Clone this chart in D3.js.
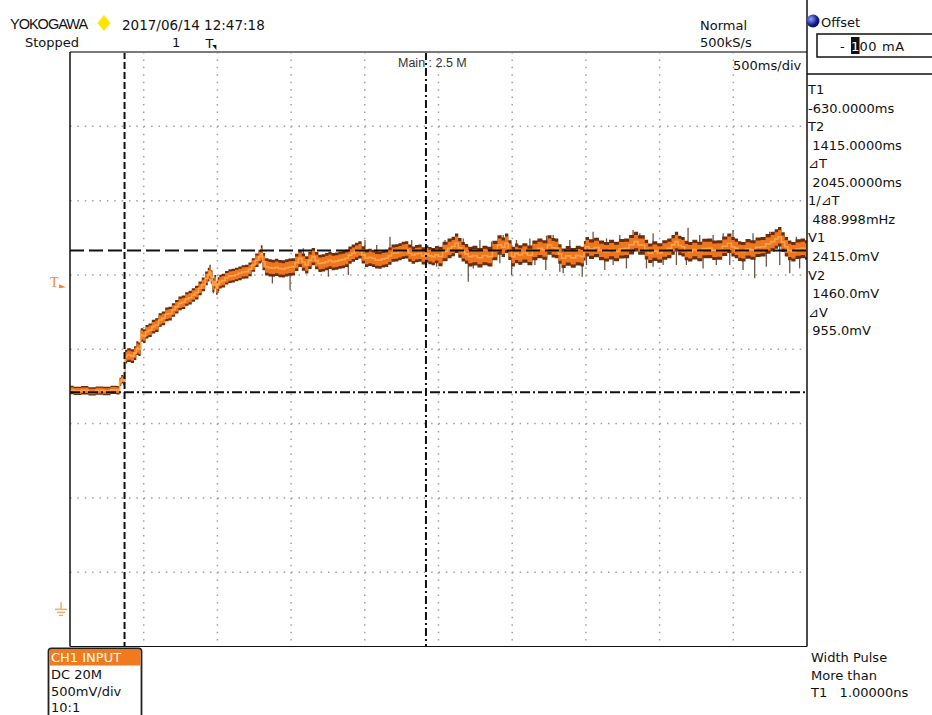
<!DOCTYPE html>
<html>
<head>
<meta charset="utf-8">
<script src="https://cdn.jsdelivr.net/npm/d3@7/dist/d3.min.js"></script>
<style>
  html, body { margin: 0; padding: 0; background: #fff; }
  svg { display: block; }
  text { font-family: "DejaVu Sans", Verdana, sans-serif; font-size: 13px; fill: #111; }
</style>
</head>
<body>
<svg id="scope" width="932" height="715"></svg>
<script>
// ---- Acquisition data: CH1 voltage (mV) against time (ms), trigger at 0 ms ----
const traceTime = [
  -1000, -950, -900, -850, -800, -750, -700, -668, -660, -645, -632, -628,
  -624, -600, -575, -556, -544, -528, -513, -496, -479, -456, -434, -410,
  -388, -366, -343, -320, -298, -276, -253, -230, -207, -185, -163, -140,
  -117, -95, -72, -58, -50, -40, -27, -14, -4, 8, 18, 40,
  64, 86, 108, 130, 154, 176, 199, 222, 244, 268, 290, 300,
  312, 335, 358, 380, 402, 425, 448, 470, 493, 515, 538, 561,
  584, 606, 628, 651, 674, 696, 720, 742, 764, 786, 810, 832,
  855, 877, 900, 922, 945, 967, 990, 1013, 1036, 1058, 1080, 1103,
  1126, 1148, 1170, 1193, 1216, 1239, 1262, 1284, 1306, 1329, 1352, 1374,
  1397, 1420, 1442, 1464, 1488, 1510, 1545, 1578, 1600, 1623, 1645, 1668,
  1690, 1713, 1747, 1781, 1815, 1849, 1883, 1917, 1940, 1962, 1985, 2007,
  2030, 2052, 2086, 2120, 2154, 2188, 2222, 2256, 2278, 2301, 2324, 2346,
  2380, 2414, 2448, 2481, 2492, 2504, 2538, 2572, 2606, 2640, 2674, 2708,
  2742, 2776, 2810, 2843, 2866, 2888, 2911, 2934, 2968, 3001, 3035, 3069,
  3092, 3115, 3137, 3159, 3182, 3205, 3239, 3273, 3306, 3340, 3374, 3408,
  3442, 3476, 3498, 3521, 3544, 3566, 3600, 3634, 3668, 3702, 3736, 3770,
  3792, 3815, 3838, 3860, 3883, 3905, 3940, 3973, 4000
];
const traceVolt = [
  1476, 1470, 1474, 1466, 1472, 1469, 1477, 1474, 1530, 1548, 1538, 1545,
  1700, 1711, 1704, 1724, 1758, 1750, 1846, 1838, 1868, 1878, 1902, 1912,
  1947, 1958, 1985, 1990, 2014, 2036, 2059, 2066, 2088, 2097, 2115, 2131,
  2160, 2186, 2227, 2252, 2272, 2236, 2182, 2204, 2162, 2188, 2205, 2212,
  2231, 2242, 2245, 2253, 2261, 2270, 2272, 2288, 2317, 2349, 2373, 2392,
  2339, 2305, 2298, 2295, 2301, 2293, 2290, 2297, 2302, 2305, 2334, 2362,
  2337, 2317, 2348, 2373, 2346, 2328, 2331, 2339, 2348, 2339, 2343, 2350,
  2353, 2362, 2383, 2396, 2408, 2418, 2385, 2362, 2368, 2362, 2351, 2350,
  2358, 2362, 2377, 2396, 2398, 2406, 2415, 2418, 2396, 2384, 2393, 2396,
  2378, 2392, 2380, 2373, 2386, 2374, 2408, 2429, 2441, 2463, 2432, 2406,
  2392, 2373, 2380, 2366, 2381, 2373, 2414, 2451, 2436, 2463, 2417, 2373,
  2395, 2384, 2398, 2382, 2415, 2429, 2418, 2451, 2433, 2429, 2391, 2362,
  2378, 2365, 2380, 2373, 2413, 2440, 2424, 2435, 2415, 2406, 2420, 2408,
  2426, 2429, 2453, 2474, 2451, 2451, 2420, 2396, 2410, 2398, 2418, 2429,
  2452, 2474, 2448, 2440, 2414, 2406, 2420, 2408, 2428, 2429, 2416, 2418,
  2443, 2463, 2440, 2429, 2410, 2406, 2425, 2418, 2436, 2440, 2459, 2474,
  2492, 2507, 2471, 2440, 2415, 2406, 2424, 2429, 2418
];
// Half-width of the dense noise envelope (mV), by time band
const bandStart = [-1000, -626, -60, 300, 1500];
const bandHalfWidth = [28, 46, 46, 58, 66];

// Isolated noise spikes: time (ms) and extreme voltage (mV)
const spikeTime = [
  -27, 5, 301, 373, 493, 583, 651, 753, 888, 1001, 1081, 1171, 1318,
  1419, 1487, 1702, 1736, 1826, 1916, 1996, 2052, 2154, 2228, 2323, 2346,
  2475, 2504, 2628, 2685, 2775, 2911, 2956, 3024, 3114, 3182, 3295, 3385,
  3476, 3566, 3645, 3724, 3815, 3883, 3950,
  1544, 1623, 1668, 1781, 1860, 1939, 2029, 2120, 2233, 2278, 2391, 2549,
  2640, 2730, 2820, 2866, 2956, 3092, 3193, 3272, 3363, 3431, 3498, 3634,
  3747, 3815, 3928
];
const spikeVolt = [
  2126, 2128, 2418, 2193, 2149, 2429, 2429, 2238, 2250, 2485, 2451, 2507, 2485,
  2317, 2305, 2204, 2294, 2317, 2328, 2249, 2317, 2317, 2283, 2272, 2261,
  2238, 2317, 2283, 2317, 2294, 2294, 2305, 2317, 2317, 2317, 2294, 2317,
  2317, 2283, 2227, 2305, 2317, 2261, 2294,
  2485, 2514, 2496, 2485, 2474, 2518, 2485, 2496, 2514, 2518, 2485, 2541,
  2496, 2518, 2552, 2530, 2530, 2507, 2568, 2518, 2518, 2530, 2552, 2530,
  2541, 2568, 2507
];

// Screen divisions (10 x 500 ms, 8 x 500 mV)
const timeDomain = [-1000, 4000];
const voltDomain = [-250, 3750];
const timeGrid = [-500, 0, 500, 1000, 1500, 2000, 2500, 3000, 3500];
const voltGrid = [250, 750, 1250, 1750, 2250, 2750, 3250];

// Cursor settings
const cursorT1 = -630, cursorT2 = 1415;
const cursorV1 = 2415, cursorV2 = 1460;
const triggerLevel = 2200;

// Readout texts
const headerTexts = ["2017/06/14 12:47:18", "Stopped", "1"];
const acqTexts = ["Normal", "500kS/s", "500ms/div"];
const cursorLabels = ["T1", "-630.0000ms", "T2", " 1415.0000ms", "\u22BFT", " 2045.0000ms",
  "1/\u22BFT", " 488.998mHz", "V1", " 2415.0mV", "V2", " 1460.0mV", "\u22BFV", " 955.0mV"];
const chTexts = ["CH1 INPUT", "DC 20M", "500mV/div", "10:1"];
const trigTexts = ["Width Pulse", "More than", "T1   1.00000ns"];

// ---- Drawing ----
const svg = d3.select("#scope");
const plot = { left: 70, right: 807, top: 52, bottom: 646.5 };

const x = d3.scaleLinear().domain(timeDomain).range([plot.left, plot.right]);
const y = d3.scaleLinear().domain(voltDomain).range([plot.bottom, plot.top]);

// Graticule
const grid = svg.append("g").attr("class", "grid");
grid.selectAll("line.vg").data(timeGrid).join("line")
  .attr("x1", d => x(d)).attr("x2", d => x(d))
  .attr("y1", plot.top).attr("y2", plot.bottom)
  .attr("stroke", "#a0a0a0").attr("stroke-width", 1.5)
  .attr("stroke-dasharray", "1.5," + ((plot.bottom - plot.top) / 80 - 1.5));
grid.selectAll("line.hg").data(voltGrid).join("line")
  .attr("x1", plot.left).attr("x2", plot.right)
  .attr("y1", d => y(d)).attr("y2", d => y(d))
  .attr("stroke", "#a0a0a0").attr("stroke-width", 1.5)
  .attr("stroke-dasharray", "1.5," + ((plot.right - plot.left) / 100 - 1.5));

// Trace
const halfWidthAt = t => {
  let w = bandHalfWidth[0];
  bandStart.forEach((s, i) => { if (t >= s) w = bandHalfWidth[i]; });
  return w;
};
const pts = traceTime.map((t, i) => ({ t, v: traceVolt[i], w: halfWidthAt(t) }));
const midAt = d3.scaleLinear().domain(traceTime).range(traceVolt);

const traceG = svg.append("g").attr("class", "trace");
traceG.selectAll("line.spike").data(spikeTime).join("line")
  .attr("x1", d => x(d)).attr("x2", d => x(d))
  .attr("y1", d => y(midAt(d)))
  .attr("y2", (d, i) => y(spikeVolt[i]))
  .attr("stroke", "#6d5646").attr("stroke-width", 1.3);

const outer = d3.area().curve(d3.curveStep)
  .x(d => x(d.t)).y0(d => y(d.v - d.w)).y1(d => y(d.v + d.w));
const inner = d3.area().curve(d3.curveStep)
  .x(d => x(d.t)).y0(d => y(d.v - d.w * 0.68)).y1(d => y(d.v + d.w * 0.68));
traceG.append("path").datum(pts).attr("d", outer).attr("fill", "#6a2e0e");
traceG.append("path").datum(pts).attr("d", inner).attr("fill", "#ee761e");
traceG.append("path").datum(pts)
  .attr("d", d3.line().curve(d3.curveStep).x(d => x(d.t)).y(d => y(d.v)))
  .attr("fill", "none").attr("stroke", "#ffa24a").attr("stroke-width", 1.6);

// Cursors
const cur = svg.append("g").attr("class", "cursors").attr("stroke", "#111").attr("stroke-width", 2);
cur.append("line").attr("x1", x(cursorT1)).attr("x2", x(cursorT1))
  .attr("y1", plot.top).attr("y2", plot.bottom).attr("stroke-dasharray", "7,3");
cur.append("line").attr("x1", x(cursorT2)).attr("x2", x(cursorT2))
  .attr("y1", plot.top).attr("y2", plot.bottom).attr("stroke-dasharray", "8,3,2,3");
cur.append("line").attr("x1", plot.left).attr("x2", plot.right)
  .attr("y1", y(cursorV1)).attr("y2", y(cursorV1)).attr("stroke-dasharray", "14,5");
cur.append("line").attr("x1", plot.left).attr("x2", plot.right)
  .attr("y1", y(cursorV2)).attr("y2", y(cursorV2)).attr("stroke-dasharray", "10,3,2,3");

// Frame
const frame = svg.append("g").attr("class", "frame");
frame.append("line").attr("x1", plot.left).attr("x2", plot.right)
  .attr("y1", plot.top).attr("y2", plot.top).attr("stroke", "#7a7a7a").attr("stroke-width", 2);
frame.append("line").attr("x1", plot.left).attr("x2", plot.left)
  .attr("y1", plot.top).attr("y2", plot.bottom).attr("stroke", "#111").attr("stroke-width", 1.5);
frame.append("line").attr("x1", plot.left).attr("x2", plot.right)
  .attr("y1", plot.bottom).attr("y2", plot.bottom).attr("stroke", "#111").attr("stroke-width", 1.2);
frame.append("line").attr("x1", plot.right).attr("x2", plot.right)
  .attr("y1", 0).attr("y2", plot.bottom).attr("stroke", "#111").attr("stroke-width", 1.5);
frame.append("line").attr("x1", plot.right).attr("x2", 932)
  .attr("y1", 74).attr("y2", 74).attr("stroke", "#111").attr("stroke-width", 1.5);

// Header
svg.append("text").attr("x", 10).attr("y", 29)
  .style("font-family", "'Liberation Sans', Arial, sans-serif").style("font-size", "14.5px")
  .style("letter-spacing", "-1px").text("YOKOGAWA");
svg.append("path")
  .attr("d", "M104,15 L110.5,23 L104,31 L97.5,23 Z").attr("fill", "#ffe400");
svg.append("text").attr("x", 122).attr("y", 30).style("font-size", "13.5px").text(headerTexts[0]);
svg.append("text").attr("x", 25).attr("y", 47).text(headerTexts[1]);
svg.append("text").attr("x", 172).attr("y", 47).text(headerTexts[2]);
// trigger position mark
svg.append("text").attr("x", x(0) - 12).attr("y", 48).text("T");
svg.append("path").attr("d", `M${x(0) - 5},45 L${x(0) - 1},45 L${x(0) - 1},50 Z`).attr("fill", "#111");

svg.append("text").attr("x", 700).attr("y", 30).text(acqTexts[0]);
svg.append("text").attr("x", 700).attr("y", 47).text(acqTexts[1]);
svg.append("text").attr("x", 733).attr("y", 70).text(acqTexts[2]);
svg.append("text").attr("x", 398).attr("y", 67)
  .style("font-family", "'Liberation Sans', Arial, sans-serif").style("font-size", "12.5px")
  .style("fill", "#333").text("Main : 2.5 M");

// Offset control
const defs = svg.append("defs");
const rg = defs.append("radialGradient").attr("id", "knob").attr("cx", "35%").attr("cy", "35%");
rg.append("stop").attr("offset", "0%").attr("stop-color", "#8fa2ff");
rg.append("stop").attr("offset", "100%").attr("stop-color", "#0c1680");
svg.append("circle").attr("cx", 813).attr("cy", 21).attr("r", 6.5).attr("fill", "url(#knob)");
svg.append("text").attr("x", 821).attr("y", 27).text("Offset");
svg.append("rect").attr("x", 817).attr("y", 34).attr("width", 125).attr("height", 23)
  .attr("fill", "#fff").attr("stroke", "#111").attr("stroke-width", 1.5);
svg.append("text").attr("x", 840).attr("y", 51).text("-");
svg.append("rect").attr("x", 851).attr("y", 37).attr("width", 8.5).attr("height", 17).attr("fill", "#111");
svg.append("text").attr("x", 851).attr("y", 51).style("fill", "#fff").text("1");
svg.append("text").attr("x", 859.5).attr("y", 51).style("letter-spacing", "0.6px").text("00 mA");

// Cursor readouts
svg.append("g").selectAll("text").data(cursorLabels).join("text")
  .attr("x", 808).attr("y", (d, i) => 94 + i * 18.55)
  .attr("xml:space", "preserve").style("white-space", "pre").text(d => d);

// Trigger level and ground markers on the left edge
const trigY = y(triggerLevel);
svg.append("text").attr("x", 50).attr("y", trigY + 5)
  .style("font-family", "'Liberation Serif', serif").style("font-size", "14px")
  .style("fill", "#ee8a30").text("T");
svg.append("path").attr("d", `M59,${trigY + 2} L66,${trigY + 5} L59,${trigY + 6} Z`).attr("fill", "#ee8a30");
const gY = y(0);
const gnd = svg.append("g").attr("stroke", "#ecae70").attr("stroke-width", 1.5);
gnd.append("line").attr("x1", 61).attr("x2", 61).attr("y1", gY - 7).attr("y2", gY);
gnd.append("line").attr("x1", 55).attr("x2", 67).attr("y1", gY).attr("y2", gY);
gnd.append("line").attr("x1", 57).attr("x2", 65).attr("y1", gY + 3).attr("y2", gY + 3);
gnd.append("line").attr("x1", 59).attr("x2", 63).attr("y1", gY + 6).attr("y2", gY + 6);

// Channel box
svg.append("rect").attr("x", 48.5).attr("y", 648.5).attr("width", 93).attr("height", 75)
  .attr("rx", 3).attr("fill", "#fff").attr("stroke", "#222").attr("stroke-width", 1.8);
svg.append("rect").attr("x", 49.5).attr("y", 649.5).attr("width", 91).attr("height", 16)
  .attr("fill", "#f07a1e");
svg.append("text").attr("x", 51).attr("y", 662).style("fill", "#fff").text(chTexts[0]);
chTexts.slice(1).forEach((t, i) => {
  svg.append("text").attr("x", 51).attr("y", 679 + i * 16.5).text(t);
});

// Trigger condition
trigTexts.forEach((t, i) => {
  svg.append("text").attr("x", 811).attr("y", 662 + i * 17.5)
    .attr("xml:space", "preserve").style("white-space", "pre").text(t);
});
</script>
</body>
</html>
